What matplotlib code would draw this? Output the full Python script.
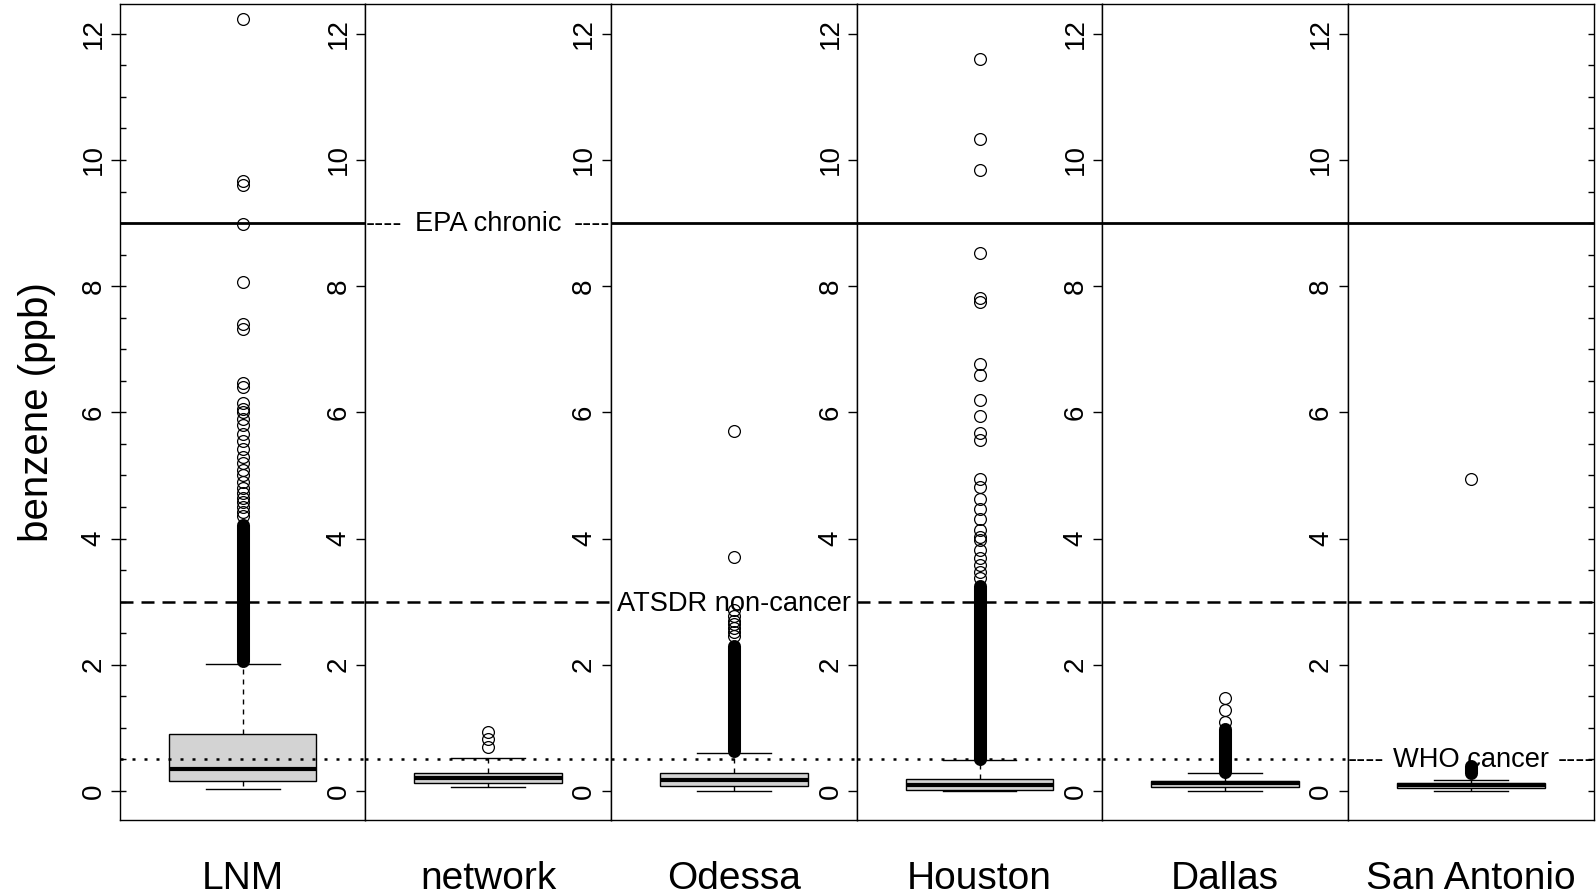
import matplotlib
matplotlib.use("Agg")
import matplotlib.pyplot as plt
from matplotlib.ticker import MultipleLocator

plt.rcParams['font.family'] = ['Liberation Sans', 'DejaVu Sans']

# benzene summaries per site (ppb)
sites = ['LNM', 'network', 'Odessa', 'Houston', 'Dallas', 'San Antonio']
q1 = [0.16, 0.12, 0.08, 0.01, 0.06, 0.05]
median = [0.35, 0.20, 0.17, 0.10, 0.12, 0.10]
q3 = [0.91, 0.29, 0.28, 0.19, 0.16, 0.12]
whisker_lo = [0.03, 0.06, 0.0, 0.0, 0.0, 0.0]
whisker_hi = [2.02, 0.53, 0.61, 0.49, 0.29, 0.17]

# ranges where the outliers are packed so tightly they form a solid column
dense_lo = [2.06, None, 0.63, 0.50, 0.30, 0.28]
dense_hi = [4.22, None, 2.30, 3.25, 0.98, 0.40]

# individually visible outliers
fliers_lnm = [4.35, 4.42, 4.5, 4.58, 4.65, 4.72, 4.8, 4.9, 5.0, 5.08, 5.2, 5.3,
              5.42, 5.55, 5.65, 5.8, 5.9, 6.0, 6.05, 6.15, 6.4, 6.47, 7.32, 7.4,
              8.06, 8.98, 9.6, 9.66, 12.24]
fliers_network = [0.70, 0.82, 0.93]
fliers_odessa = [2.45, 2.52, 2.58, 2.64, 2.7, 2.78, 2.87, 3.71, 5.71]
fliers_houston = [3.37, 3.47, 3.58, 3.69, 3.82, 3.98, 4.03, 4.13, 4.31, 4.47,
                  4.63, 4.82, 4.95, 5.56, 5.68, 5.95, 6.19, 6.6, 6.77, 7.75,
                  7.82, 8.53, 9.84, 10.33, 11.6]
fliers_dallas = [1.1, 1.28, 1.47]
fliers_sa = [4.95]
fliers = [fliers_lnm, fliers_network, fliers_odessa, fliers_houston,
          fliers_dallas, fliers_sa]

# health-based reference levels and the panel that carries each label
ref_levels = [9.0, 3.0, 0.5]
ref_labels = ['EPA chronic', 'ATSDR non-cancer', 'WHO cancer']
ref_flanked = [True, False, True]
ref_label_panel = [1, 2, 5]
ref_styles = ['-', (0, (5.2, 3.2)), (0, (1.2, 3.6))]
ref_widths = [2.0, 1.8, 1.8]

W, H = 1596, 894
edges = [120, 365.4, 610.7, 857, 1102.3, 1347.6, 1594]
bottom = (H - 820.4) / H
height = (820.4 - 4.1) / H
label_size = 19.6

fig = plt.figure(figsize=(W / 100, H / 100), dpi=100)


def put_label(ax, text, x, level, ha, drop):
    ax.annotate(text, xy=(x, level), xycoords=ax.get_yaxis_transform(),
                xytext=(0, -drop), textcoords='offset points',
                ha=ha, va='baseline', fontsize=label_size, clip_on=True,
                annotation_clip=False, zorder=4)


axes = []
for i, site in enumerate(sites):
    ax = fig.add_axes([edges[i] / W, bottom, (edges[i + 1] - edges[i]) / W, height])
    axes.append(ax)
    ax.set_xlim(0.5, 1.5)
    ax.set_ylim(-0.466, 12.47)

    stats = [dict(med=median[i], q1=q1[i], q3=q3[i], whislo=whisker_lo[i],
                  whishi=whisker_hi[i], fliers=fliers[i])]
    ax.bxp(stats, positions=[1], widths=0.6, capwidths=0.3, patch_artist=True,
           boxprops=dict(facecolor='#d3d3d3', edgecolor='black', linewidth=1.0),
           medianprops=dict(color='black', linewidth=3.0, solid_capstyle='butt'),
           whiskerprops=dict(color='black', linewidth=1.0, linestyle=(0, (3.6, 3.6))),
           capprops=dict(color='black', linewidth=1.0),
           flierprops=dict(marker='o', markerfacecolor='none', markeredgecolor='black',
                           markersize=8.5, markeredgewidth=0.9),
           zorder=2)
    if dense_lo[i] is not None:
        ax.plot([1, 1], [dense_lo[i], dense_hi[i]], color='black', linewidth=9.4,
                solid_capstyle='round', zorder=2.2)

    for j, level in enumerate(ref_levels):
        if ref_label_panel[j] == i:
            if ref_flanked[j]:
                # hyphen runs sit on the level, text centred between them
                put_label(ax, ref_labels[j], 0.5, level, 'center', 5.4)
                put_label(ax, '----', 0.0, level, 'left', 5.4)
                put_label(ax, '----', 1.0, level, 'right', 5.4)
            else:
                put_label(ax, ref_labels[j], 0.5, level, 'center', 7.0)
        else:
            ax.axhline(level, color='black', linestyle=ref_styles[j],
                       linewidth=ref_widths[j], zorder=3)

    for sp in ax.spines.values():
        sp.set_linewidth(1.0)
        sp.set_color('black')

    ax.set_xticks([1], [site])
    ax.tick_params(axis='x', length=0, labelsize=28, pad=29)
    ax.set_yticks(range(0, 13, 2))
    ax.tick_params(axis='y', which='major', direction='out', length=6.8, width=1.0,
                   labelsize=20, labelrotation=90, pad=3)
    for lbl in ax.get_yticklabels():
        lbl.set_va('center')

# inward ticks every 0.5 on the outer left and right edges
axes[0].yaxis.set_minor_locator(MultipleLocator(0.5))
axes[0].yaxis.remove_overlapping_locs = False
axes[0].tick_params(axis='y', which='minor', direction='in', length=4.3, width=1.0,
                    left=True, right=False)
axes[-1].yaxis.set_minor_locator(MultipleLocator(0.5))
axes[-1].yaxis.remove_overlapping_locs = False
axes[-1].tick_params(axis='y', which='minor', direction='in', length=4.3, width=1.0,
                     left=False, right=True)

fig.text(36.6 / W, 1 - 412 / H, 'benzene (ppb)', rotation=90, ha='center',
         va='center', fontsize=29)

fig.savefig('out.png', dpi=100)
